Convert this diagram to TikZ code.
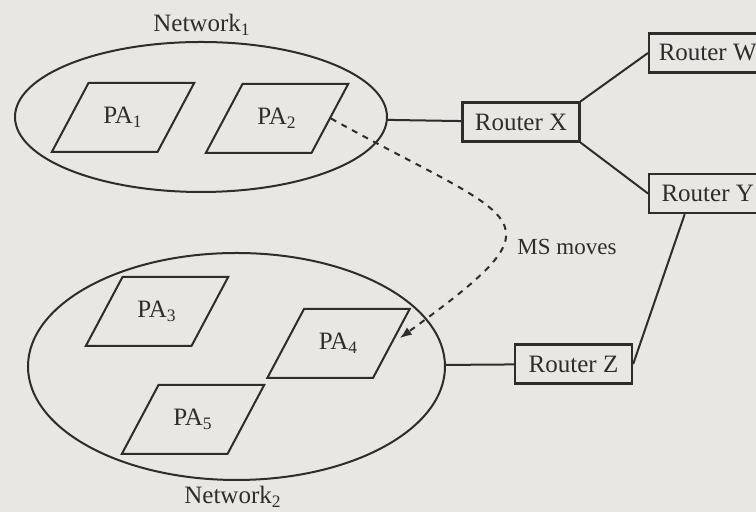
\documentclass[tikz,border=0pt]{standalone}
\usepackage{fontspec}
\setmainfont{Liberation Serif}
\usetikzlibrary{shapes.geometric,arrows.meta}
\definecolor{paper}{RGB}{233,231,227}
\definecolor{ink}{RGB}{45,45,45}

\begin{document}
\begin{tikzpicture}[x=0.5pt,y=0.5pt,ink,line width=1pt,
		font=\fontsize{12.5}{15}\selectfont,
		net node/.style={ellipse,draw,inner sep=0pt},
		pa node/.style={trapezium,draw,trapezium left angle=62,trapezium right angle=118,
			text width=20.5pt,align=center,text height=9pt,text depth=2.5pt,
			inner xsep=7pt,inner ysep=11.5pt},
		router node/.style={rectangle,draw,line width=1.2pt,minimum width=58.5pt,minimum height=19.5pt,inner sep=0pt}]

	\fill[paper] (0,0) rectangle (756,512);
	\useasboundingbox (0,0) rectangle (756,512);

	\node[net node,minimum width=186pt,minimum height=75pt] (N1) at (201,395) {};
	\node[net node,minimum width=208.5pt,minimum height=113.5pt] (N2) at (236.5,145.5) {};
	\node (L1) at (202,487) {Network\textsubscript{1}};
	\node (L2) at (233,15) {Network\textsubscript{2}};

	\node[pa node] (P1) at (123,394.5) {PA\textsubscript{1}};
	\node[pa node] (P2) at (277,393.5) {PA\textsubscript{2}};
	\node[pa node] (P3) at (157,200.5) {PA\textsubscript{3}};
	\node[pa node] (P4) at (338.5,168.5) {PA\textsubscript{4}};
	\node[pa node] (P5) at (193,92.5) {PA\textsubscript{5}};

	\node[router node] (X) at (521,390) {Router X};
	\node[router node,anchor=west] (W) at (648,459) {Router W};
	\node[router node,anchor=west] (Y) at (648,318.5) {Router Y};
	\node[router node] (Z) at (573.5,148) {Router Z};
	\node[font=\fontsize{11.5}{14}\selectfont] (M) at (567,265) {MS moves};

	\path
	(N1) edge (X)
	(X.north east) edge (W.west)
	(X.south east) edge (Y.west)
	(Y.222) edge (Z.east)
	(N2) edge (Z);

	\path[dashed,-{Latex[length=6pt,width=4.5pt]}]
	(P2.east) edge[out=-29,in=36,looseness=2.4,shorten >=4.5pt] (P4.east);
\end{tikzpicture}
\end{document}
